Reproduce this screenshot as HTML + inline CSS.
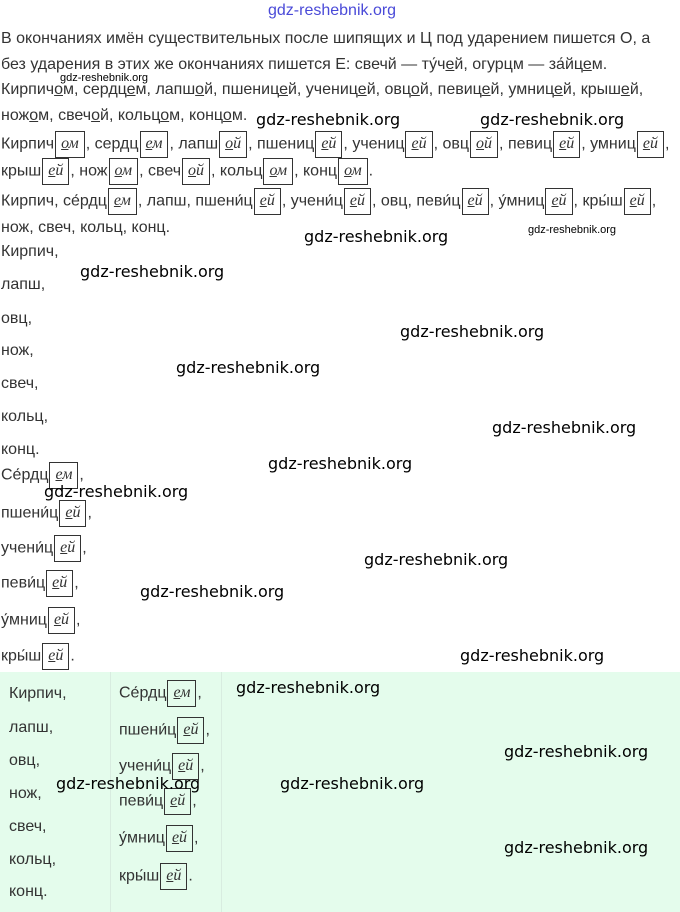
<!DOCTYPE html>
<html><head><meta charset="utf-8"><style>
body{margin:0;width:680px;height:912px;background:#fff;position:relative;overflow:hidden;font-family:"Liberation Sans",sans-serif;font-size:16px;color:#333}
.l{position:absolute;left:1px;white-space:nowrap;line-height:18px}
.b{display:inline-block;border:1px solid #333;padding:0 5px;height:25px;line-height:23px;vertical-align:middle;font-family:"Liberation Serif",serif;font-style:italic;font-size:16px;margin:0 1px}
.b u{text-decoration:underline}
.w{position:absolute;font-family:"DejaVu Sans",sans-serif;font-size:16px;color:#000;white-space:nowrap}
.ws{position:absolute;font-family:"Liberation Sans",sans-serif;font-size:11px;color:#000;white-space:nowrap}
.tb{position:absolute;left:0;top:672px;width:680px;height:240px;background:#e4fcec}
.c1{position:absolute;left:110px;top:672px;width:110px;height:240px;border-left:1px solid #d8ece0;border-right:1px solid #d8ece0}
</style></head><body>
<div style="position:absolute;left:268px;top:2px;color:#4a4ad8;font-size:16px;font-family:'Liberation Sans',sans-serif">gdz-reshebnik.org</div>
<div class="l" style="top:30px">В окончаниях имён существительных после шипящих и Ц под ударением пишется О, а</div>
<div class="l" style="top:56px">без ударения в этих же окончаниях пишется Е: свечй — ту́ч<u>е</u>й, огурцм — за́йц<u>е</u>м.</div>
<div class="l" style="top:81px">Кирпич<u>о</u>м, сердц<u>е</u>м, лапш<u>о</u>й, пшениц<u>е</u>й, учениц<u>е</u>й, овц<u>о</u>й, певиц<u>е</u>й, умниц<u>е</u>й, крыш<u>е</u>й,</div>
<div class="l" style="top:107px">нож<u>о</u>м, свеч<u>о</u>й, кольц<u>о</u>м, конц<u>о</u>м.</div>
<div class="l" style="top:131px;line-height:26px">Кирпич<span class="b"><u>о</u>м</span>, сердц<span class="b"><u>е</u>м</span>, лапш<span class="b"><u>о</u>й</span>, пшениц<span class="b"><u>е</u>й</span>, учениц<span class="b"><u>е</u>й</span>, овц<span class="b"><u>о</u>й</span>, певиц<span class="b"><u>е</u>й</span>, умниц<span class="b"><u>е</u>й</span>,</div>
<div class="l" style="top:158px;line-height:26px">крыш<span class="b"><u>е</u>й</span>, нож<span class="b"><u>о</u>м</span>, свеч<span class="b"><u>о</u>й</span>, кольц<span class="b"><u>о</u>м</span>, конц<span class="b"><u>о</u>м</span>.</div>
<div class="l" style="top:188px;line-height:26px">Кирпич, се́рдц<span class="b"><u>е</u>м</span>, лапш, пшени́ц<span class="b"><u>е</u>й</span>, учени́ц<span class="b"><u>е</u>й</span>, овц, певи́ц<span class="b"><u>е</u>й</span>, у́мниц<span class="b"><u>е</u>й</span>, кры́ш<span class="b"><u>е</u>й</span>,</div>
<div class="l" style="top:219px">нож, свеч, кольц, конц.</div>
<div class="l" style="top:243px">Кирпич,</div>
<div class="l" style="top:276px">лапш,</div>
<div class="l" style="top:310px">овц,</div>
<div class="l" style="top:342px">нож,</div>
<div class="l" style="top:375px">свеч,</div>
<div class="l" style="top:408px">кольц,</div>
<div class="l" style="top:441px">конц.</div>
<div class="l" style="top:462px;line-height:26px">Се́рдц<span class="b"><u>е</u>м</span>,</div>
<div class="l" style="top:500px;line-height:26px">пшени́ц<span class="b"><u>е</u>й</span>,</div>
<div class="l" style="top:535px;line-height:26px">учени́ц<span class="b"><u>е</u>й</span>,</div>
<div class="l" style="top:570px;line-height:26px">певи́ц<span class="b"><u>е</u>й</span>,</div>
<div class="l" style="top:607px;line-height:26px">у́мниц<span class="b"><u>е</u>й</span>,</div>
<div class="l" style="top:643px;line-height:26px">кры́ш<span class="b"><u>е</u>й</span>.</div>
<div class="tb"></div><div class="c1"></div>
<div class="l" style="left:9px;top:685px">Кирпич,</div>
<div class="l" style="left:9px;top:719px">лапш,</div>
<div class="l" style="left:9px;top:752px">овц,</div>
<div class="l" style="left:9px;top:785px">нож,</div>
<div class="l" style="left:9px;top:818px">свеч,</div>
<div class="l" style="left:9px;top:851px">кольц,</div>
<div class="l" style="left:9px;top:883px">конц.</div>
<div class="l" style="left:119px;top:680px;line-height:26px">Се́рдц<span class="b"><u>е</u>м</span>,</div>
<div class="l" style="left:119px;top:717px;line-height:26px">пшени́ц<span class="b"><u>е</u>й</span>,</div>
<div class="l" style="left:119px;top:753px;line-height:26px">учени́ц<span class="b"><u>е</u>й</span>,</div>
<div class="l" style="left:119px;top:788px;line-height:26px">певи́ц<span class="b"><u>е</u>й</span>,</div>
<div class="l" style="left:119px;top:825px;line-height:26px">у́мниц<span class="b"><u>е</u>й</span>,</div>
<div class="l" style="left:119px;top:863px;line-height:26px">кры́ш<span class="b"><u>е</u>й</span>.</div>
<div class="ws" style="left:60px;top:72px">gdz-reshebnik.org</div>
<div class="w" style="left:256px;top:110px">gdz-reshebnik.org</div>
<div class="w" style="left:480px;top:110px">gdz-reshebnik.org</div>
<div class="w" style="left:304px;top:227px">gdz-reshebnik.org</div>
<div class="ws" style="left:528px;top:224px">gdz-reshebnik.org</div>
<div class="w" style="left:80px;top:262px">gdz-reshebnik.org</div>
<div class="w" style="left:400px;top:322px">gdz-reshebnik.org</div>
<div class="w" style="left:176px;top:358px">gdz-reshebnik.org</div>
<div class="w" style="left:492px;top:418px">gdz-reshebnik.org</div>
<div class="w" style="left:268px;top:454px">gdz-reshebnik.org</div>
<div class="w" style="left:44px;top:482px">gdz-reshebnik.org</div>
<div class="w" style="left:364px;top:550px">gdz-reshebnik.org</div>
<div class="w" style="left:140px;top:582px">gdz-reshebnik.org</div>
<div class="w" style="left:460px;top:646px">gdz-reshebnik.org</div>
<div class="w" style="left:236px;top:678px">gdz-reshebnik.org</div>
<div class="w" style="left:504px;top:742px">gdz-reshebnik.org</div>
<div class="w" style="left:56px;top:774px">gdz-reshebnik.org</div>
<div class="w" style="left:280px;top:774px">gdz-reshebnik.org</div>
<div class="w" style="left:504px;top:838px">gdz-reshebnik.org</div>
</body></html>
